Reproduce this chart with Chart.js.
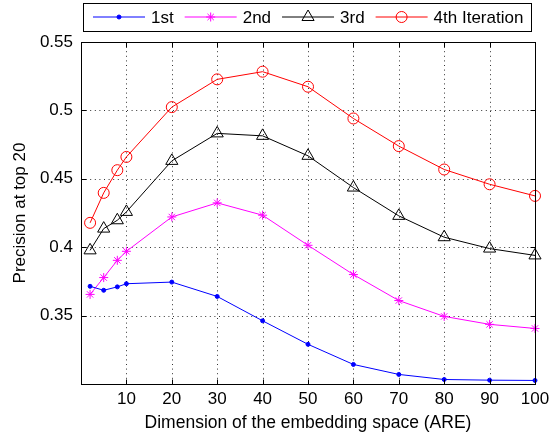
<!DOCTYPE html>
<html>
<head>
<meta charset="utf-8">
<script src="https://cdn.jsdelivr.net/npm/chart.js@4.4.1/dist/chart.umd.min.js"></script>
<style>
  html, body { margin: 0; padding: 0; background: #fff; }
  #wrap { width: 550px; height: 436px; }
</style>
</head>
<body>
<div id="wrap"><canvas id="myChart" width="550" height="436"></canvas></div>
<script>
// Dimension of the embedding space
const dims = [2, 5, 8, 10, 20, 30, 40, 50, 60, 70, 80, 90, 100];
// Precision at top 20, one array per iteration
const iter1 = [0.3714, 0.3685, 0.3710, 0.3733, 0.3745, 0.3640, 0.3462, 0.3290, 0.3143, 0.3070, 0.3033, 0.3028, 0.3026];
const iter2 = [0.3655, 0.3778, 0.3904, 0.3970, 0.4221, 0.4324, 0.4234, 0.4014, 0.3800, 0.3610, 0.3494, 0.3436, 0.3406];
const iter3 = [0.3977, 0.4136, 0.4197, 0.4258, 0.4631, 0.4832, 0.4814, 0.4668, 0.4436, 0.4229, 0.4073, 0.3990, 0.3940];
const iter4 = [0.4178, 0.4397, 0.4563, 0.4660, 0.5024, 0.5227, 0.5283, 0.5173, 0.4941, 0.4739, 0.4568, 0.4460, 0.4375];
const seriesNames = ['1st', '2nd', '3rd', '4th Iteration'];
const xTicks = [10, 20, 30, 40, 50, 60, 70, 80, 90, 100];
const yTicks = [0.35, 0.4, 0.45, 0.5, 0.55];

const FONT = "'Liberation Sans', Arial, Helvetica, sans-serif";
Chart.defaults.font.family = FONT;
Chart.defaults.font.size = 17;
Chart.defaults.color = '#000';

function pts(vals) {
    return dims.map((d, i) => ({ x: d, y: vals[i] }));
}

function line(ctx, x1, y1, x2, y2) {
    ctx.beginPath();
    ctx.moveTo(x1, y1);
    ctx.lineTo(x2, y2);
    ctx.stroke();
}

// dotted grid, drawn under the lines
const gridPlugin = {
    id: 'dottedGrid',
    beforeDatasetsDraw(chart) {
        const { ctx, chartArea: a, scales: { x, y } } = chart;
        ctx.save();
        ctx.strokeStyle = '#333';
        ctx.lineWidth = 1;
        ctx.setLineDash([1, 3.6]);
        xTicks.forEach(v => {
            const px = Math.round(x.getPixelForValue(v)) + 0.5;
            line(ctx, px, a.top, px, a.bottom);
        });
        yTicks.forEach(v => {
            const py = Math.round(y.getPixelForValue(v)) + 0.5;
            line(ctx, a.left, py, a.right, py);
        });
        ctx.restore();
    }
};

// box around the plot with inward tick marks, and the legend box on top
const framePlugin = {
    id: 'frame',
    afterDraw(chart) {
        const { ctx, chartArea: a, scales: { x, y } } = chart;
        const L = Math.round(a.left) + 0.5, R = Math.round(a.right) + 0.5;
        const T = Math.round(a.top) + 0.5, B = Math.round(a.bottom) + 0.5;
        ctx.save();
        ctx.strokeStyle = '#000';
        ctx.lineWidth = 1;
        ctx.strokeRect(L, T, R - L, B - T);
        const tl = 5;
        xTicks.forEach(v => {
            const px = Math.round(x.getPixelForValue(v)) + 0.5;
            line(ctx, px, B, px, B - tl);
            line(ctx, px, T, px, T + tl);
        });
        yTicks.forEach(v => {
            const py = Math.round(y.getPixelForValue(v)) + 0.5;
            line(ctx, L, py, L + tl, py);
            line(ctx, R, py, R - tl, py);
        });

        // legend
        const bx = 83.5, by = 3.5, bw = 448, bh = 28;
        ctx.fillStyle = '#fff';
        ctx.fillRect(bx, by, bw, bh);
        ctx.strokeRect(bx, by, bw, bh);
        ctx.font = '17px ' + FONT;
        ctx.textBaseline = 'middle';
        const cy = 17;
        let cx = 93;
        chart.data.datasets.forEach(ds => {
            ctx.strokeStyle = ds.borderColor;
            ctx.lineWidth = 1;
            line(ctx, cx, cy, cx + 52, cy);
            ctx.fillStyle = ds.pointBackgroundColor;
            ctx.strokeStyle = ds.borderColor;
            Chart.helpers.drawPoint(ctx, {
                pointStyle: ds.pointStyle,
                radius: ds.pointRadius,
                rotation: 0,
                borderWidth: 1
            }, cx + 26, cy);
            ctx.fillStyle = '#000';
            ctx.textAlign = 'left';
            ctx.fillText(ds.label, cx + 58, cy + 1);
            cx += 58 + ctx.measureText(ds.label).width + 11;
        });
        ctx.restore();
    }
};

const colors = ['#0000ff', '#ff00ff', '#000000', '#ff0000'];
const styles = ['circle', 'star', 'triangle', 'circle'];
const radii = [2, 4.5, 7, 5.5];
const fills = ['#0000ff', '#ff00ff', 'rgba(0,0,0,0)', 'rgba(0,0,0,0)'];

const ctx = document.getElementById('myChart').getContext('2d');
const myChart = new Chart(ctx, {
    type: 'line',
    data: {
        datasets: [iter1, iter2, iter3, iter4].map((vals, i) => ({
            label: seriesNames[i],
            data: pts(vals),
            borderColor: colors[i],
            backgroundColor: colors[i],
            pointBackgroundColor: fills[i],
            pointBorderColor: colors[i],
            pointStyle: styles[i],
            pointRadius: radii[i],
            pointBorderWidth: 1,
            borderWidth: 1,
            tension: 0,
            fill: false,
            clip: false
        }))
    },
    options: {
        responsive: false,
        animation: false,
        layout: { padding: { top: 42, right: 15, left: 0, bottom: 0 } },
        plugins: {
            legend: { display: false },
            tooltip: { enabled: false }
        },
        scales: {
            x: {
                type: 'linear',
                min: 0,
                max: 100,
                grid: { display: false, drawTicks: false },
                border: { display: false },
                afterBuildTicks: s => { s.ticks = xTicks.map(v => ({ value: v })); },
                afterFit: s => { s.height = 52; s.paddingLeft = 0; s.paddingRight = 0; },
                ticks: {
                    padding: 5,
                    maxRotation: 0,
                    autoSkip: false,
                    callback: v => String(v)
                },
                title: {
                    display: true,
                    text: 'Dimension of the embedding space (ARE)',
                    font: { size: 17.5 },
                    padding: { top: 0, bottom: 2 }
                }
            },
            y: {
                type: 'linear',
                min: 0.3,
                max: 0.55,
                grid: { display: false, drawTicks: false },
                border: { display: false },
                afterBuildTicks: s => { s.ticks = yTicks.map(v => ({ value: v })); },
                afterFit: s => { s.width = 81; },
                ticks: {
                    padding: 8,
                    autoSkip: false,
                    callback: v => String(+v.toFixed(2))
                },
                title: {
                    display: true,
                    text: 'Precision at top 20',
                    font: { size: 17 },
                    padding: { top: 10.5, bottom: 0 }
                }
            }
        }
    },
    plugins: [gridPlugin, framePlugin]
});
</script>
</body>
</html>
